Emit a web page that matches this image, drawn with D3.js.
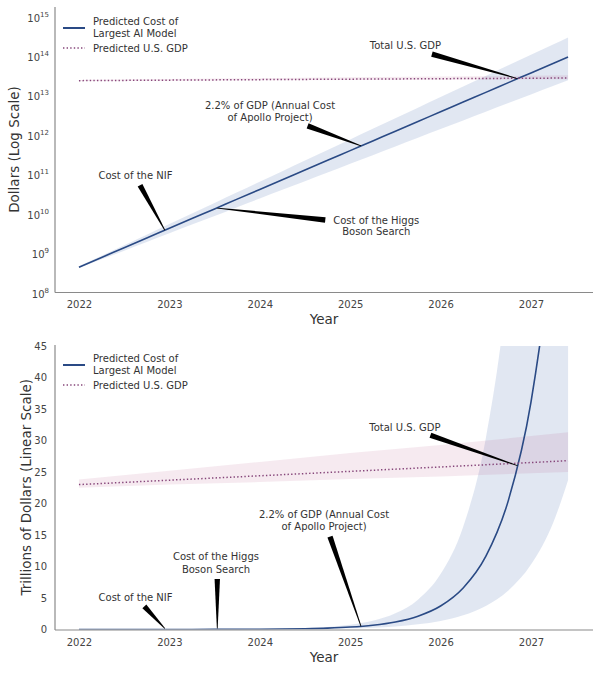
<!DOCTYPE html>
<html><head><meta charset="utf-8">
<script src="https://cdn.jsdelivr.net/npm/d3@7"></script>
<style>body{margin:0;background:#fff} svg{display:block} text{font-family:"DejaVu Sans",sans-serif}</style>
</head><body><svg id="c" width="600" height="673"></svg>
<script>
// ---- data (dollars) ----
const years = [2022.00,2022.25,2022.50,2022.75,2023.00,2023.25,2023.50,2023.75,2024.00,2024.25,2024.50,2024.75,2025.00,2025.25,2025.50,2025.75,2026.00,2026.25,2026.50,2026.75,2027.00,2027.25,2027.41];
const aiCost  = [4.27e8,7.52e8,1.33e9,2.34e9,4.13e9,7.28e9,1.28e10,2.27e10,3.99e10,7.05e10,1.24e11,2.19e11,3.86e11,6.81e11,1.20e12,2.12e12,3.73e12,6.59e12,1.16e13,2.05e13,3.61e13,6.37e13,9.16e13];
const aiUpper = [4.47e8,8.28e8,1.54e9,2.85e9,5.30e9,9.82e9,1.82e10,3.38e10,6.27e10,1.16e11,2.16e11,4.00e11,7.43e11,1.38e12,2.56e12,4.74e12,8.79e12,1.63e13,3.03e13,5.62e13,1.04e14,1.93e14,2.87e14];
const aiLower = [4.07e8,6.76e8,1.12e9,1.86e9,3.10e9,5.14e9,8.51e9,1.42e10,2.35e10,3.91e10,6.47e10,1.07e11,1.79e11,2.96e11,4.92e11,8.17e11,1.36e12,2.25e12,3.74e12,6.21e12,1.03e13,1.71e13,2.37e13];
const gdpYears = [2022,2023,2024,2025,2026,2027,2027.41];
const gdp      = [23.0e12,23.7e12,24.4e12,25.1e12,25.8e12,26.5e12,26.8e12];
const gdpUpper = [23.8e12,25.2e12,26.6e12,28.0e12,29.3e12,30.7e12,31.3e12];
const gdpLower = [22.5e12,23.0e12,23.4e12,23.9e12,24.3e12,24.8e12,25.0e12];
const xTicks = [2022,2023,2024,2025,2026,2027];
const logTicks = [8,9,10,11,12,13,14,15];
const linTicks = [0,5,10,15,20,25,30,35,40,45];
const eventNames = [["Cost of the NIF"],["Cost of the Higgs","Boson Search"],["2.2% of GDP (Annual Cost","of Apollo Project)"],["Total U.S. GDP"]];
const eventYears = [2022.95,2023.53,2025.12,2026.85];
const eventCosts = [3.7e9,1.35e10,5.1e11,2.6e13];
const legendLabels = [["Predicted Cost of","Largest AI Model"],["Predicted U.S. GDP"]];

const svg = d3.select("#c");
svg.append("rect").attr("width",600).attr("height",673).attr("fill","#fff");

const BLUE = "#2a4a85", GDPC = "#86467a", TXT = "#333", AX = "#8a8a8a";

function chart(opt){
  const g = svg.append("g");
  const x = d3.scaleLinear().domain([2021.735, 2027.686]).range([55, 593]);
  const y = opt.y;
  const v = opt.val;
  const id = "clip" + opt.key;
  svg.append("clipPath").attr("id", id).append("rect")
    .attr("x",55).attr("y",y.range()[1]).attr("width",538).attr("height",y.range()[0]-y.range()[1]);
  const plot = g.append("g").attr("clip-path",`url(#${id})`);
  const aiIdx = d3.range(years.length), gIdx = d3.range(gdpYears.length);
  plot.append("path").datum(aiIdx)
    .attr("d", d3.area().x(i=>x(years[i])).y0(i=>y(v(aiLower[i]))).y1(i=>y(v(aiUpper[i]))).curve(d3.curveMonotoneX))
    .attr("fill","#4c72b0").attr("fill-opacity",0.17);
  plot.append("path").datum(gIdx)
    .attr("d", d3.area().x(i=>x(gdpYears[i])).y0(i=>y(v(gdpLower[i]))).y1(i=>y(v(gdpUpper[i]))))
    .attr("fill","#b0407a").attr("fill-opacity",0.11);
  plot.append("path").datum(aiIdx)
    .attr("d", d3.line().x(i=>x(years[i])).y(i=>y(v(aiCost[i]))).curve(d3.curveMonotoneX))
    .attr("fill","none").attr("stroke",BLUE).attr("stroke-width",1.6);
  plot.append("path").datum(gIdx)
    .attr("d", d3.line().x(i=>x(gdpYears[i])).y(i=>y(v(gdp[i]))))
    .attr("fill","none").attr("stroke",GDPC).attr("stroke-width",1.5).attr("stroke-dasharray","1.4,2.2");

  // spines
  const yb = y.range()[0], yt = opt.spineTop;
  g.append("line").attr("x1",55).attr("x2",55).attr("y1",yt).attr("y2",yb+0.5).attr("stroke",AX).attr("stroke-width",1.2);
  g.append("line").attr("x1",55).attr("x2",593).attr("y1",yb+0.5).attr("y2",yb+0.5).attr("stroke",AX).attr("stroke-width",1.2);

  // x ticks
  const xa = d3.axisBottom(x).tickValues(xTicks).tickFormat(d3.format("d")).tickSize(0).tickPadding(0);
  const xg = g.append("g").attr("transform",`translate(0,${yb+16})`).call(xa);
  xg.select(".domain").remove();
  xg.selectAll("text").attr("font-size",10).attr("fill","#444").attr("dy","0").attr("font-family","DejaVu Sans");
  g.append("text").attr("x",324).attr("y",yb+32).attr("text-anchor","middle").attr("font-size",13.5).attr("fill",TXT).text("Year");

  // y ticks
  opt.yTicks(g, y);
  g.append("text").attr("transform",`translate(${opt.ylabX},${(yt+yb)/2}) rotate(-90)`).attr("text-anchor","middle")
    .attr("font-size",13.5).attr("fill",TXT).text(opt.ylabel);

  // legend
  const ly = opt.legendY;
  g.append("line").attr("x1",63).attr("x2",85).attr("y1",ly).attr("y2",ly).attr("stroke",BLUE).attr("stroke-width",2);
  g.append("text").attr("x",93).attr("y",ly-6.5).attr("dominant-baseline","central").attr("font-size",10).attr("fill",TXT).text(legendLabels[0][0]);
  g.append("text").attr("x",93).attr("y",ly+5).attr("dominant-baseline","central").attr("font-size",10).attr("fill",TXT).text(legendLabels[0][1]);
  g.append("line").attr("x1",63).attr("x2",85).attr("y1",ly+20).attr("y2",ly+20).attr("stroke",GDPC).attr("stroke-width",1.5).attr("stroke-dasharray","1.4,2.2");
  g.append("text").attr("x",93).attr("y",ly+20).attr("dominant-baseline","central").attr("font-size",10).attr("fill",TXT).text(legendLabels[1][0]);

  // annotations
  eventNames.forEach((lines,k)=>{
    const tx = x(eventYears[k]), ty = Math.min(y(v(eventCosts[k])), yb-1);
    const o = opt.ann[k];
    lines.forEach((s,j)=>{
      g.append("text").attr("x",tx+o[0]).attr("y",ty+o[1]+j*opt.lh).attr("text-anchor","middle")
        .attr("dominant-baseline","central").attr("font-size",10).attr("fill",TXT).text(s);
    });
    const bx = tx+o[2], by = ty+o[3];
    const dx = tx-bx, dy = ty-by, L = Math.hypot(dx,dy), nx = -dy/L, ny = dx/L;
    const w0 = 2.7, w1 = 0.4;
    g.append("path").attr("d",`M${bx+nx*w0},${by+ny*w0}L${tx+nx*w1},${ty+ny*w1}L${tx-nx*w1},${ty-ny*w1}L${bx-nx*w0},${by-ny*w0}Z`)
      .attr("fill","#000");
  });
}

// top: log scale
chart({
  key:"top",
  y: d3.scaleLog().domain([1e8, Math.pow(10,15.23)]).range([292, 7]),
  val: d=>d,
  spineTop: 7,
  ylabX: 19, ylabel: "Dollars (Log Scale)",
  legendY: 28,
  lh: 11.5,
  ann: [[-29.4,-55,-24.8,-45],[159,12,108,12],[-91,-40,-53.4,-20],[-112,-33,-85.5,-24.5]],
  yTicks: (g,y)=>{
    logTicks.forEach(p=>{
      const t = g.append("text").attr("x",49).attr("y",y(Math.pow(10,p))+5.5).attr("text-anchor","end").attr("fill","#444");
      t.append("tspan").attr("font-size",10).text("10");
      t.append("tspan").attr("font-size",7).attr("dy",-5).text(String(p));
    });
  }
});

// bottom: linear scale (trillions)
chart({
  key:"bot",
  y: d3.scaleLinear().domain([0,45]).range([629.5, 346]),
  val: d=>d/1e12,
  spineTop: 345,
  ylabX: 31, ylabel: "Trillions of Dollars (Linear Scale)",
  legendY: 365,
  lh: 12.5,
  ann: [[-29.3,-31,-20.5,-22.2],[-1.3,-72,0,-49.4],[-37,-112,-31,-89.6],[-112.5,-38,-87,-30.4]],
  yTicks: (g,y)=>{
    const ya = d3.axisLeft(y).tickValues(linTicks).tickSize(0).tickPadding(0).tickFormat(d3.format("d"));
    const yg = g.append("g").attr("transform","translate(47,0)").call(ya);
    yg.select(".domain").remove();
    yg.selectAll("text").attr("font-size",10).attr("fill","#444").attr("font-family","DejaVu Sans");
  }
});
</script></body></html>
